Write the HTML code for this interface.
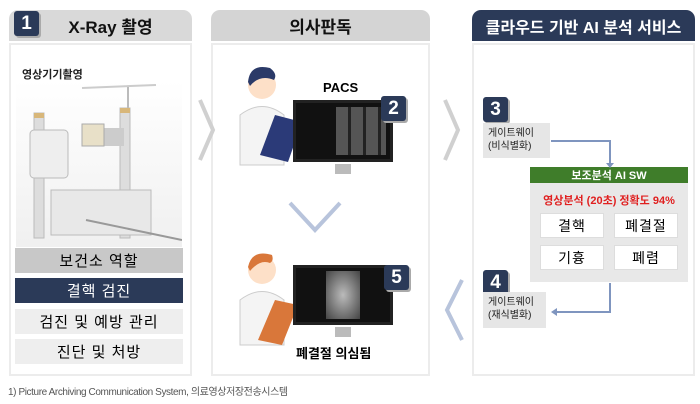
<!DOCTYPE html>
<html><head><meta charset="utf-8"><style>
*{margin:0;padding:0;box-sizing:border-box}
body{width:700px;height:404px;background:#fff;font-family:"Liberation Sans","Noto Sans CJK KR",sans-serif;position:relative;overflow:hidden}
.a{position:absolute}
.hd{position:absolute;top:10px;height:31px;border-radius:9px 9px 0 0;display:flex;align-items:center;justify-content:center;font-weight:bold;font-size:17px}
.bd{position:absolute;top:43px;height:333px;border:2px solid #ececec;background:#fff}
.num{position:absolute;width:25px;height:25px;background:#2b3a58;color:#fff;font-weight:bold;font-size:19px;border-radius:3px;display:flex;align-items:center;justify-content:center;box-shadow:2px 2px 0 #aaa}
.row{position:absolute;left:15px;width:168px;height:25px;display:flex;align-items:center;justify-content:center;font-size:15px;letter-spacing:1px}
.gw{position:absolute;background:#e6e6e6;font-size:10px;line-height:13px;padding:4px 5px;color:#222}
.btn{position:absolute;width:64px;height:25px;background:#fff;border:1px solid #ddd;display:flex;align-items:center;justify-content:center;font-size:14px;letter-spacing:1px}
</style></head><body>
<div class="hd" style="left:9px;width:183px;background:#d9d9d9;color:#111"><span style="margin-left:20px">X-Ray 촬영</span></div>
<div class="num" style="left:14px;top:11px;">1</div>
<div class="hd" style="left:211px;width:219px;background:#d4d4d4;color:#111">의사판독</div>
<div class="hd" style="left:472px;width:223px;background:#2b3a58;color:#fff;font-size:16px">클라우드 기반 AI 분석 서비스</div>

<div class="bd" style="left:9px;width:183px"></div>
<div class="bd" style="left:211px;width:219px"></div>
<div class="bd" style="left:472px;width:223px"></div>

<!-- panel1 -->
<div class="a" style="left:22px;top:66px;font-size:11px;font-weight:bold;color:#222">영상기기촬영</div>
<div class="a" style="left:16px;top:80px;width:166px;height:167px;background:linear-gradient(#fff,#f0f0f0)"></div>
<svg class="a" style="left:16px;top:80px" width="166" height="168">
<line x1="66" y1="8" x2="140" y2="5" stroke="#ccc" stroke-width="2"/>
<line x1="112" y1="7" x2="112" y2="28" stroke="#bbb" stroke-width="2"/>
<rect x="104" y="28" width="10" height="130" fill="#ddd" stroke="#bbb"/>
<rect x="104" y="28" width="10" height="5" fill="#d8b77a"/>
<rect x="18" y="33" width="10" height="125" fill="#ddd" stroke="#bbb"/>
<rect x="18" y="33" width="10" height="5" fill="#d8b77a"/>
<rect x="14" y="50" width="38" height="48" rx="4" fill="#eee" stroke="#bbb"/>
<rect x="70" y="48" width="38" height="18" fill="#ccc"/>
<rect x="66" y="44" width="22" height="22" fill="#e8e0c8" stroke="#aaa"/>
<rect x="35" y="110" width="100" height="45" fill="#e8e8e8" stroke="#bbb"/>
<line x1="70" y1="140" x2="166" y2="160" stroke="#999" stroke-width="2"/>
</svg>
<div class="row" style="top:248px;background:#c8c8c8">보건소 역할</div>
<div class="row" style="top:278px;background:#2b3a58;color:#fff">결핵 검진</div>
<div class="row" style="top:309px;background:#eee">검진 및 예방 관리</div>
<div class="row" style="top:339px;background:#eee">진단 및 처방</div>

<!-- chevrons -->
<svg class="a" style="left:195px;top:95px" width="25" height="70"><polyline points="5,5 18,35 5,65" fill="none" stroke="#d0d0d0" stroke-width="4"/></svg>
<svg class="a" style="left:440px;top:95px" width="25" height="70"><polyline points="5,5 18,35 5,65" fill="none" stroke="#d0d0d0" stroke-width="4"/></svg>
<svg class="a" style="left:285px;top:198px" width="60" height="40"><polyline points="5,5 30,32 55,5" fill="none" stroke="#b8c4dc" stroke-width="4"/></svg>
<svg class="a" style="left:440px;top:275px" width="30" height="70"><polyline points="22,5 7,35 22,65" fill="none" stroke="#b8c4dc" stroke-width="4"/></svg>

<!-- panel2 -->
<div class="a" style="left:323px;top:80px;font-size:13px;font-weight:bold">PACS</div>
<svg class="a" style="left:230px;top:60px" width="75" height="110">
<circle cx="32" cy="25" r="14" fill="#fde0c8"/><path d="M18 22 Q20 3 40 8 Q48 14 44 20 Q30 14 20 26Z" fill="#2b3a68"/>
<path d="M10 105 L10 55 Q32 38 54 55 L54 105Z" fill="#f4f4f4" stroke="#ccc"/>
<polygon points="30,95 45,55 72,62 58,102" fill="#2b3a78"/>
</svg>
<div class="a" style="left:293px;top:100px;width:100px;height:62px;background:#111;border:3px solid #222"><div style="margin:4px 4px 4px 40px;height:48px;background:repeating-linear-gradient(90deg,#555 0 12px,#222 12px 15px)"></div></div>
<div class="a" style="left:335px;top:164px;width:16px;height:10px;background:#bbb"></div>
<div class="num" style="left:381px;top:96px">2</div>
<svg class="a" style="left:230px;top:245px" width="75" height="105">
<circle cx="32" cy="25" r="14" fill="#fde0c8"/><path d="M18 22 Q22 4 42 10 Q44 16 40 18 Q30 14 20 26Z" fill="#d9773a"/>
<path d="M10 100 L10 55 Q32 38 54 55 L54 100Z" fill="#f4f4f4" stroke="#ccc"/>
<polygon points="28,95 45,55 68,60 52,100" fill="#d9773a"/>
</svg>
<div class="a" style="left:293px;top:265px;width:100px;height:60px;background:#111;border:3px solid #222"><div style="margin:3px 30px;height:48px;background:radial-gradient(#bbb,#444)"></div></div>
<div class="a" style="left:335px;top:327px;width:16px;height:10px;background:#bbb"></div>
<div class="num" style="left:384px;top:265px">5</div>
<div class="a" style="left:296px;top:343px;font-size:13px;font-weight:bold">폐결절 의심됨</div>

<!-- panel3 -->
<div class="num" style="left:483px;top:97px">3</div>
<div class="gw" style="left:483px;top:123px;width:67px;height:35px">게이트웨이<br>(비식별화)</div>
<div class="a" style="left:530px;top:167px;width:158px;height:16px;background:#3f7d2a;color:#fff;font-size:11px;font-weight:bold;display:flex;align-items:center;justify-content:center">보조분석 AI SW</div>
<div class="a" style="left:530px;top:183px;width:158px;height:99px;background:#e8e8e8"></div>
<div class="a" style="left:530px;top:192px;width:158px;text-align:center;color:#e02020;font-size:11px;font-weight:bold">영상분석 (20초) 정확도 94%</div>
<div class="btn" style="left:540px;top:213px">결핵</div>
<div class="btn" style="left:614px;top:213px">폐결절</div>
<div class="btn" style="left:540px;top:245px">기흉</div>
<div class="btn" style="left:614px;top:245px">폐렴</div>
<div class="num" style="left:483px;top:270px">4</div>
<div class="gw" style="left:483px;top:292px;width:63px;height:36px">게이트웨이<br>(재식별화)</div>
<svg class="a" style="left:0;top:0" width="700" height="404">
<polyline points="551,141 610,141 610,164" fill="none" stroke="#7f95bf" stroke-width="2"/>
<polygon points="606,163 614,163 610,168" fill="#7f95bf"/>
<polyline points="610,283 610,312 556,312" fill="none" stroke="#7f95bf" stroke-width="2"/>
<polygon points="557,308 557,316 551,312" fill="#7f95bf"/>
</svg>

<div class="a" style="left:8px;top:383px;font-size:10px;color:#555;letter-spacing:-0.4px">1) Picture Archiving Communication System, 의료영상저장전송시스템</div>
</body></html>
